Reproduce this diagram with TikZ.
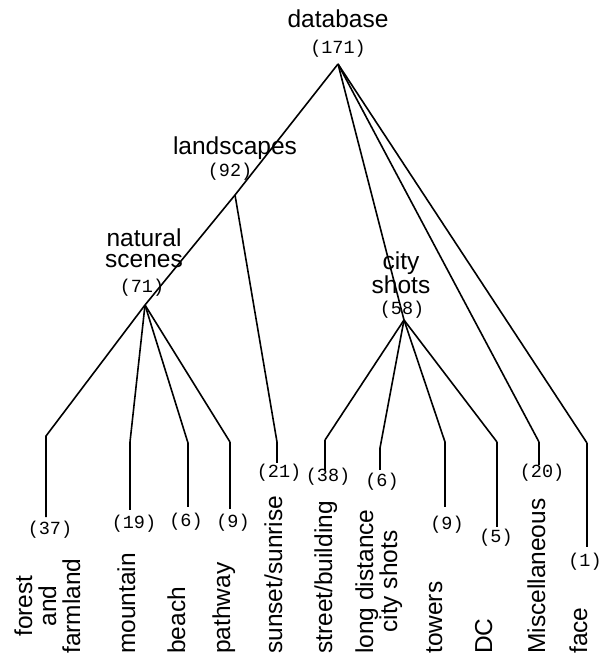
\documentclass[tikz,border=0pt]{standalone}
\usepackage{fontspec}
\setsansfont{Liberation Sans}
\setmonofont{Liberation Mono}
\begin{document}
\begin{tikzpicture}[x=1pt, y=-1pt,
    every node/.style={inner sep=0pt},
    cat/.style={font=\sffamily\fontsize{24.5}{20.5}\selectfont, align=center, anchor=base},
    leaf/.style={font=\sffamily\fontsize{24.5}{24}\selectfont, align=center, rotate=90, anchor=base west},
    cnt/.style={font=\ttfamily\fontsize{18.5}{18.5}\selectfont},
    edge/.style={line width=1.6pt},
    stem/.style={line width=2.8pt}]
    \useasboundingbox (0,0) rectangle (602,655);
    % inner labels
    \node[cat] (db) at (338,28) {database};
    \node[cnt] (dbn) at (338,49) {(171)};
    \node[cat] (land) at (235,155) {landscapes};
    \node[cnt] (landn) at (230,172) {(92)};
    \node[cat] (nat) at (144,267) {natural\\scenes};
    \node[cnt] (natn) at (142,288) {(71)};
    \node[cat] (city) at (401,293) {city\\shots};
    \node[cnt] (cityn) at (402,310) {(58)};
    % branch points
    \coordinate (root) at (338,64);
    \coordinate (landp) at (235,195);
    \coordinate (natp) at (145,305);
    \coordinate (cityp) at (404,320);
    % bends and ends of the leaves
    \coordinate (forestb) at (46,436);  \coordinate (foreste) at (46,517);
    \coordinate (mountb) at (130,442);  \coordinate (mounte) at (130,510);
    \coordinate (beachb) at (188,443);  \coordinate (beache) at (188,507);
    \coordinate (pathb) at (230,442);   \coordinate (pathe) at (230,509);
    \coordinate (sunb) at (277,442);    \coordinate (sune) at (277,463);
    \coordinate (streetb) at (325,440); \coordinate (streete) at (325,470);
    \coordinate (longb) at (380,448);   \coordinate (longe) at (380,470);
    \coordinate (towerb) at (445,442);  \coordinate (towere) at (445,507);
    \coordinate (dcb) at (497,442);     \coordinate (dce) at (497,527);
    \coordinate (miscb) at (539,442);   \coordinate (misce) at (539,465);
    \coordinate (faceb) at (587,443);   \coordinate (facee) at (587,547);
    % counts
    \node[cnt] (forestn) at (50,530) {(37)};
    \node[cnt] (mountn) at (134,524) {(19)};
    \node[cnt] (beachn) at (186,522) {(6)};
    \node[cnt] (pathn) at (233,523) {(9)};
    \node[cnt] (sunn) at (279,473) {(21)};
    \node[cnt] (streetn) at (328,477) {(38)};
    \node[cnt] (longn) at (382,482) {(6)};
    \node[cnt] (towern) at (447,525) {(9)};
    \node[cnt] (dcn) at (496,538) {(5)};
    \node[cnt] (miscn) at (542,473) {(20)};
    \node[cnt] (facen) at (585,562) {(1)};
    % leaf names
    \node[leaf] (forest) at (80,654) {forest\\and\\farmland};
    \node[leaf] (mount) at (135,654) {mountain};
    \node[leaf] (beach) at (185,654) {beach};
    \node[leaf] (path) at (230,654) {pathway};
    \node[leaf] (sun) at (282,654) {sunset/sunrise};
    \node[leaf] (street) at (332,654) {street/building};
    \node[leaf] (long) at (397,654) {long distance\\city shots};
    \node[leaf] (tower) at (442,654) {towers};
    \node[leaf] (dc) at (492,654) {DC};
    \node[leaf] (misc) at (545,654) {Miscellaneous};
    \node[leaf] (face) at (587,654) {face};
    % tree
    \draw[edge] (root) -- (landp) -- (natp);
    \draw[edge] (root) -- (cityp);
    \draw[edge] (landp) -- (sunb);
    \draw[edge] (root) -- (miscb);
    \draw[edge] (root) -- (faceb);
    \draw[edge] (natp) -- (forestb) -- (foreste);
    \foreach \l in {mount,beach,path} {
        \draw[edge] (natp) -- (\l b);
        \draw[stem] (\l b) -- (\l e);
    }
    \foreach \l in {street,long,tower,dc} {
        \draw[edge] (cityp) -- (\l b);
        \draw[stem] (\l b) -- (\l e);
    }
    \draw[stem] (sunb) -- (sune);
    \draw[stem] (miscb) -- (misce);
    \draw[stem] (faceb) -- (facee);
\end{tikzpicture}
\end{document}
